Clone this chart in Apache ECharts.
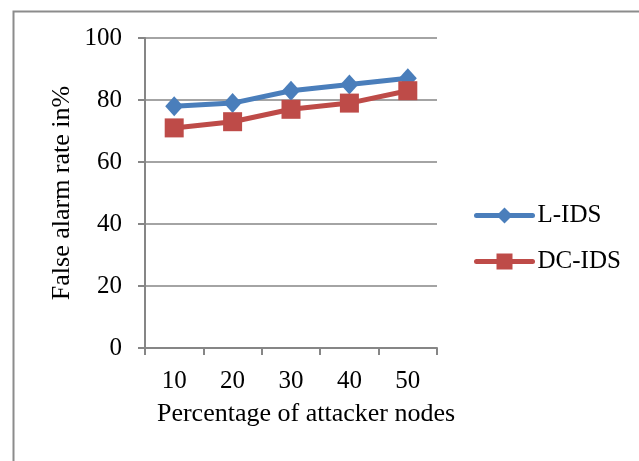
<!DOCTYPE html>
<html><head><meta charset="utf-8">
<script src="https://cdn.jsdelivr.net/npm/echarts@6/dist/echarts.min.js"></script>
<style>html,body{margin:0;padding:0;background:#fff}#c{width:639px;height:461px}</style>
</head><body><div id="c"></div>
<script>
const categories = ['10','20','30','40','50'];
const lids = [78, 79, 83, 85, 87];
const dcids = [71, 73, 77, 79, 83];
const yTicks = {min:0, max:100, interval:20};
const font = 'Liberation Serif';
const chart = echarts.init(document.getElementById('c'));
chart.setOption({
  animation:false,
  textStyle:{fontFamily:font},
  graphic:[{type:'rect', left:11, top:9, shape:{width:700, height:500},
    style:{fill:'none', stroke:'#8c8c8c', lineWidth:2}, silent:true}],
  grid:{left:145, right:202, top:38, bottom:113},
  legend:{orient:'vertical', left:469, top:198, itemGap:21, itemWidth:56, itemHeight:20,
    textStyle:{fontFamily:font, fontSize:25, color:'#000'},
    lineStyle:{width:5, cap:'round'},
    data:['L-IDS','DC-IDS']},
  xAxis:{type:'category', data:categories, boundaryGap:true,
    name:'Percentage of attacker nodes', nameLocation:'middle', nameGap:53,
    nameTextStyle:{fontFamily:font, fontSize:26, color:'#000', padding:[0,0,0,30]},
    axisLine:{lineStyle:{color:'#868686', width:2}},
    axisTick:{show:true, length:7, lineStyle:{color:'#868686', width:2}},
    axisLabel:{fontFamily:font, fontSize:25, color:'#000', margin:21}},
  yAxis:{type:'value', min:yTicks.min, max:yTicks.max, interval:yTicks.interval,
    name:'False alarm rate in%', nameLocation:'middle', nameGap:70,
    nameTextStyle:{fontFamily:font, fontSize:26, color:'#000'},
    axisLine:{show:true, lineStyle:{color:'#868686', width:2}},
    axisTick:{show:true, length:7, lineStyle:{color:'#868686', width:2}},
    splitLine:{lineStyle:{color:'#868686', width:1.5}},
    axisLabel:{fontFamily:font, fontSize:25, color:'#000', margin:23}},
  series:[
    {name:'L-IDS', type:'line', data:lids, symbol:'diamond', symbolSize:[18,20],
     lineStyle:{color:'#4a7ebb', width:5}, itemStyle:{color:'#4a7ebb'}},
    {name:'DC-IDS', type:'line', data:dcids, symbol:'rect', symbolSize:19,
     lineStyle:{color:'#be4b48', width:5}, itemStyle:{color:'#be4b48'}}
  ]
});
</script></body></html>
